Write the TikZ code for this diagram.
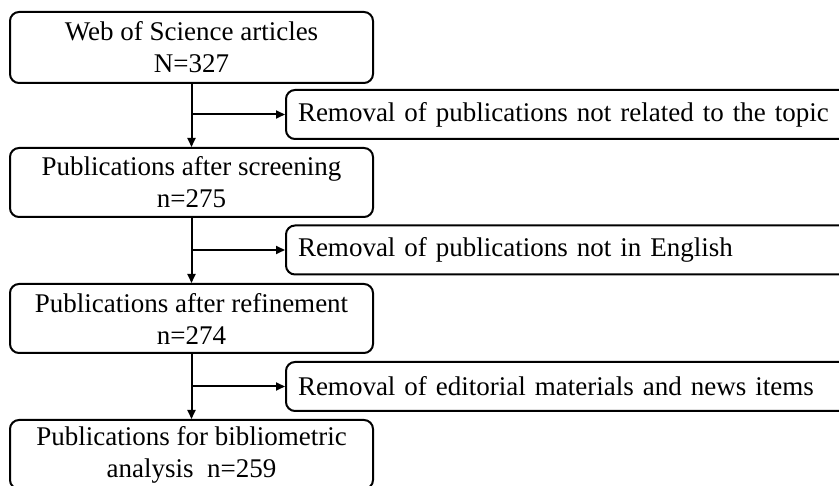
\documentclass[tikz,border=0pt]{standalone}
\usepackage{fontspec}
\setmainfont{Liberation Serif}
\usetikzlibrary{arrows.meta}
\begin{document}
\begin{tikzpicture}[x=1pt,y=1pt,
  lbox/.style={draw, line width=2pt, rounded corners=9pt, minimum width=363pt, minimum height=69pt, align=center, inner sep=0pt, font=\fontsize{27}{32}\selectfont},
  rbox/.style={draw, line width=2pt, rounded corners=9pt, anchor=west, minimum height=49pt, text width=561pt, align=left, inner xsep=12pt, inner ysep=0pt, font=\fontsize{27}{32}\selectfont},
  arr/.style={line width=2pt, -{Triangle[length=9pt,width=8pt]}}
]
\clip (0,0) rectangle (839,-486);
\fill[white] (0,0) rectangle (839,-486);
\node[lbox, minimum height=71pt] (b1) at (191.5,-47.5) {Web of Science articles\\N=327};
\node[lbox] (b2) at (191.5,-182.5) {Publications after screening\\n=275};
\node[lbox] (b3) at (191.5,-318.5) {Publications after refinement\\n=274};
\node[lbox] (b4) at (191.5,-454.5) {Publications for bibliometric\\analysis\ \ n=259};
\node[rbox] (r1) at (285,-114.5) {Removal of publications not related to the topic};
\node[rbox] (r2) at (285,-250) {Removal of publications not in English};
\node[rbox] (r3) at (285,-386.5) {Removal of editorial materials and news items};
\draw[arr] (b1.south) -- (b2.north);
\draw[arr] (b2.south) -- (b3.north);
\draw[arr] (b3.south) -- (b4.north);
\coordinate (j1) at (b1.south |- r1.west);
\coordinate (j2) at (b2.south |- r2.west);
\coordinate (j3) at (b3.south |- r3.west);
\draw[arr] (j1) -- (r1.west);
\draw[arr] (j2) -- (r2.west);
\draw[arr] (j3) -- (r3.west);
\end{tikzpicture}
\end{document}
